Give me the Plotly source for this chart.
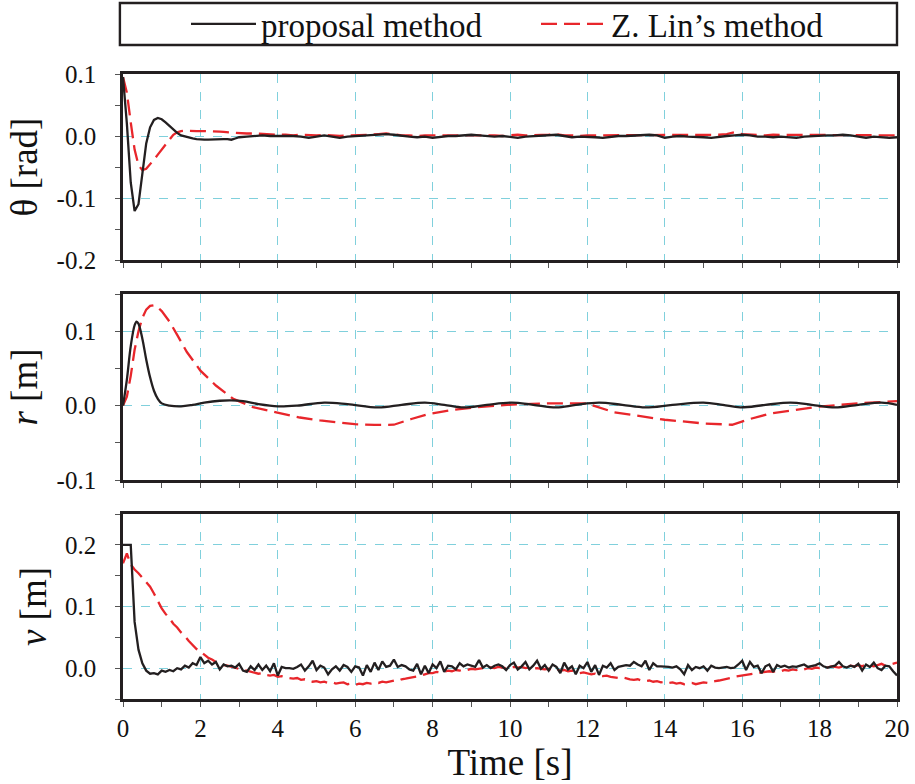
import plotly.graph_objects as go
from plotly.subplots import make_subplots

# ---------------- data ----------------
# theta panel: fine grid 0.0-2.9 s (0.1 s), then 3.0-20.0 s (0.2 s)
theta_t = [round(0.1 * i, 1) for i in range(30)] + [round(3 + 0.2 * i, 1) for i in range(86)]
theta_prop = [
    0.095, 0.020, -0.075, -0.121, -0.110, -0.058, -0.012, 0.014, 0.026, 0.029,
    0.027, 0.022, 0.016, 0.010, 0.005, 0.001, -0.001, -0.003, -0.004, -0.005,
    -0.006, -0.006, -0.006, -0.0055, -0.005, -0.005, -0.005, -0.005, -0.006, -0.004,
    -0.002, -0.001, 0.000, 0.001, 0.000,
    0.000, 0.001, 0.000, -0.001, -0.003,
    -0.001, 0.001, -0.001, -0.003, -0.001,
    0.000, 0.001, 0.001, 0.002, 0.003,
    0.002, 0.000, -0.001, -0.002, -0.001,
    -0.003, -0.001, 0.000, 0.000, 0.001,
    0.002, 0.001, 0.000, -0.001, 0.000,
    -0.001, -0.003, -0.001, 0.000, 0.001,
    0.001, 0.002, 0.000, -0.002, -0.001,
    -0.001, -0.002, -0.003, -0.001, 0.000,
    0.000, 0.001, 0.001, 0.002, 0.001,
    -0.003, -0.001, 0.000, -0.001, -0.001,
    -0.002, -0.003, -0.001, 0.000, 0.001,
    0.002, 0.001, -0.001, -0.001, -0.002,
    -0.001, -0.002, -0.003, -0.001, 0.000,
    0.000, 0.001, 0.001, 0.002, 0.001,
    -0.001, -0.003, -0.001, -0.002, -0.003,
    -0.002,
]
theta_lin = [
    0.095, 0.070, 0.022, -0.022, -0.047, -0.055, -0.053, -0.046, -0.038, -0.030,
    -0.022, -0.013, -0.005, 0.002, 0.006, 0.008, 0.0085, 0.008, 0.008, 0.008,
    0.008, 0.008, 0.0075, 0.0075, 0.007, 0.007, 0.0065, 0.006, 0.006, 0.0055,
    0.005, 0.004, 0.004, 0.003, 0.003,
    0.002, 0.002, 0.001, 0.002, 0.001,
    0.001, 0.002, 0.001, 0.000, 0.001,
    0.001, 0.002, 0.002, 0.003, 0.004,
    0.003, 0.001, 0.001, 0.000, 0.001,
    0.001, 0.001, 0.002, 0.001, 0.001,
    0.002, 0.002, 0.001, 0.001, 0.000,
    0.001, 0.002, 0.001, 0.001, 0.002,
    0.002, 0.003, 0.001, 0.001, 0.000,
    0.001, 0.001, 0.002, 0.002, 0.002,
    0.002, 0.002, 0.001, 0.002, 0.001,
    0.001, 0.002, 0.001, 0.002, 0.002,
    0.001, 0.001, 0.002, 0.003, 0.006,
    0.003, 0.002, 0.001, 0.001, 0.002,
    0.002, 0.001, 0.001, 0.002, 0.001,
    0.001, 0.002, 0.001, 0.001, 0.002,
    0.001, 0.001, 0.002, 0.001, 0.002,
    0.001,
]

# r panel
r_prop_t = [0, 0.1, 0.2, 0.3, 0.35, 0.4, 0.5, 0.6, 0.7, 0.8, 0.9, 1.0, 1.2, 1.5, 1.8, 2.1, 2.5,
            2.8, 3.1, 3.5, 4.0, 4.5, 5.2, 5.8, 6.6, 7.2, 7.8, 8.3, 8.8, 9.4, 10.05, 10.6, 11.2,
            11.7, 12.3, 12.9, 13.5, 14.2, 15.0, 15.5, 15.95, 16.6, 17.25, 17.8, 18.4, 19.0, 19.6, 20.0]
r_prop = [0.0, 0.035, 0.080, 0.108, 0.113, 0.110, 0.090, 0.062, 0.038, 0.020, 0.009, 0.003, 0.0,
          -0.001, 0.001, 0.004, 0.0065, 0.007, 0.006, 0.002, -0.001, 0.0, 0.004, 0.002, -0.0025,
          0.001, 0.004, 0.001, -0.0025, 0.001, 0.004, 0.001, -0.0025, 0.001, 0.004, 0.001, -0.0025,
          0.001, 0.004, 0.001, -0.0025, 0.001, 0.004, 0.001, -0.0025, 0.001, 0.004, 0.001]
r_lin_t = [0, 0.1, 0.2, 0.3, 0.4, 0.5, 0.6, 0.7, 0.8, 0.9, 1.0, 1.2, 1.4, 1.65, 2.0, 2.4, 2.85,
           3.36, 3.96, 4.57, 5.09, 5.99, 6.5, 7.0, 7.45, 7.92, 8.5, 9.14, 10.05, 11.0, 11.98,
           12.69, 14.0, 15.0, 15.74, 16.2, 16.75, 17.97, 19.0, 20.0]
r_lin = [0.0, 0.012, 0.040, 0.075, 0.100, 0.118, 0.129, 0.134, 0.135, 0.132, 0.127, 0.113, 0.095,
         0.072, 0.047, 0.027, 0.009, -0.002, -0.009, -0.016, -0.020, -0.025, -0.026, -0.0257,
         -0.018, -0.011, -0.006, -0.0023, 0.0014, 0.003, 0.003, -0.009, -0.019, -0.024, -0.0257,
         -0.018, -0.0104, -0.0014, 0.003, 0.006]

# v panel: 0.0-20.0 s every 0.1 s
v_t = [round(0.1 * i, 1) for i in range(201)]
v_prop = [
    0.200, 0.200, 0.200, 0.075, 0.030, 0.008, -0.004, -0.009, -0.008, -0.010,
    -0.004, -0.006, -0.003, -0.005, 0.000, -0.002, 0.004, 0.001, 0.008, 0.005,
    0.018, 0.008, 0.012, 0.006, 0.010, -0.002, 0.006, 0.003, 0.004, 0.001,
    0.007, -0.004, -0.006, 0.003, -0.003, 0.006, -0.003, 0.004, -0.005, 0.008,
    -0.012, 0.002, 0.000, 0.000, -0.001, 0.002, 0.006, -0.004, 0.003, 0.012,
    -0.003, 0.004, 0.001, -0.010, -0.002, 0.003, -0.004, 0.005, 0.002, -0.006,
    0.003, 0.001, -0.012, 0.005, -0.006, 0.009, -0.003, 0.011, 0.002, 0.004,
    0.014, 0.002, 0.005, 0.003, -0.002, -0.004, 0.007, -0.010, 0.004, -0.008,
    0.006, 0.000, 0.011, -0.006, 0.004, 0.003, -0.002, 0.008, 0.003, 0.006,
    0.004, 0.002, 0.013, 0.001, 0.005, 0.000, 0.004, 0.006, 0.003, -0.003,
    0.005, 0.009, -0.002, 0.003, 0.010, -0.002, 0.004, 0.012, -0.001, 0.005,
    -0.004, 0.006, 0.002, -0.008, 0.009, -0.002, 0.003, -0.010, 0.004, 0.000,
    0.010, -0.006, 0.005, -0.011, 0.004, 0.001, 0.008, -0.003, 0.002, 0.003,
    0.005, 0.004, 0.010, 0.006, 0.003, 0.012, -0.003, 0.008, 0.003, 0.003,
    0.003, 0.002, 0.001, 0.003, -0.002, -0.010, 0.005, -0.003, 0.002, 0.000,
    0.003, -0.004, 0.004, 0.001, 0.000, 0.001, 0.002, 0.000, 0.001, 0.006,
    0.012, -0.003, 0.010, 0.002, 0.004, -0.008, 0.003, 0.006, -0.006, 0.005,
    0.002, 0.004, 0.001, 0.003, 0.002, 0.004, 0.006, 0.002, 0.003, 0.005,
    0.008, 0.003, 0.001, 0.003, 0.004, 0.010, 0.003, 0.001, 0.004, 0.002,
    0.007, -0.004, 0.006, 0.002, 0.009, 0.000, -0.003, 0.004, 0.003, -0.005,
    -0.012,
]
v_lin = [
    0.170, 0.186, 0.168, 0.160, 0.154, 0.147, 0.140, 0.132, 0.121, 0.108,
    0.097, 0.088, 0.081, 0.072, 0.066, 0.058, 0.052, 0.044, 0.038, 0.031,
    0.027, 0.022, 0.017, 0.014, 0.010, 0.008, 0.005, 0.004, 0.002, 0.000,
    -0.002, -0.003, -0.004, -0.006, -0.007, -0.009, -0.008, -0.011, -0.012, -0.011,
    -0.014, -0.013, -0.015, -0.016, -0.017, -0.016, -0.019, -0.018, -0.020, -0.022,
    -0.021, -0.023, -0.022, -0.024, -0.023, -0.025, -0.024, -0.023, -0.026, -0.025,
    -0.027, -0.025, -0.026, -0.024, -0.025, -0.023, -0.024, -0.022, -0.023, -0.021,
    -0.020, -0.021, -0.018, -0.017, -0.016, -0.015, -0.013, -0.012, -0.010, -0.008,
    -0.008, -0.006, -0.007, -0.005, -0.004, -0.005, -0.003, -0.004, -0.002, -0.003,
    -0.001, -0.002, -0.001, 0.000, -0.001, 0.001, 0.000, 0.002, 0.001, 0.000,
    0.001, 0.002, 0.001, 0.002, 0.000, 0.001, -0.001, 0.000, -0.001, -0.002,
    -0.001, -0.003, -0.002, -0.004, -0.003, -0.005, -0.004, -0.006, -0.008, -0.007,
    -0.009, -0.010, -0.009, -0.012, -0.013, -0.012, -0.014, -0.015, -0.016, -0.015,
    -0.017, -0.018, -0.019, -0.018, -0.020, -0.021, -0.020, -0.022, -0.021, -0.023,
    -0.022, -0.024, -0.023, -0.025, -0.024, -0.026, -0.025, -0.024, -0.026, -0.025,
    -0.023, -0.024, -0.022, -0.021, -0.020, -0.019, -0.017, -0.016, -0.014, -0.013,
    -0.012, -0.011, -0.010, -0.009, -0.008, -0.008, -0.007, -0.005, -0.006, -0.004,
    -0.005, -0.003, -0.004, -0.002, -0.003, -0.001, -0.002, 0.000, -0.001, 0.001,
    0.000, 0.002, 0.001, 0.003, 0.002, 0.001, 0.003, 0.002, 0.004, 0.003,
    0.005, 0.003, 0.006, 0.004, 0.003, 0.005, 0.007, 0.004, 0.006, 0.008,
    0.009,
]

series_names = ["proposal method", "Z. Lin\u2019s method"]
x_ticks = [0, 2, 4, 6, 8, 10, 12, 14, 16, 18, 20]
y_titles = ["\u03b8 [rad]", "<i>r</i> [m]", "<i>v</i> [m]"]
y_ranges = [[-0.2, 0.1], [-0.1, 0.15], [-0.05, 0.25]]
y_tickvals = [[-0.2, -0.1, 0.0, 0.1], [-0.1, 0.0, 0.1], [0.0, 0.1, 0.2]]
y_ticktext = [["-0.2", "-0.1", "0.0", "0.1"], ["-0.1", "0.0", "0.1"], ["0.0", "0.1", "0.2"]]
y_minor = [[-0.15, -0.05, 0.05], [-0.05, 0.05, 0.15], [-0.05, 0.05, 0.15, 0.25]]

# ---------------- style ----------------
FONT = "Liberation Serif"
BLACK = "#231f20"
RED = "#e8262b"
GRID = "#80d0dc"
FRAME = "#231f20"

fig = make_subplots(rows=3, cols=1)

panels = [
    (theta_t, theta_prop, theta_t, theta_lin, "linear"),
    (r_prop_t, r_prop, r_lin_t, r_lin, "spline"),
    (v_t, v_prop, v_t, v_lin, "linear"),
]
for i, (tp, yp, tl, yl, shape) in enumerate(panels):
    row = i + 1
    fig.add_trace(go.Scatter(x=tl, y=yl, mode="lines", name=series_names[1],
                             line=dict(color=RED, width=2.3, dash="16px,7px", shape="linear"),
                             showlegend=(i == 0), legendrank=2), row=row, col=1)
    fig.add_trace(go.Scatter(x=tp, y=yp, mode="lines", name=series_names[0],
                             line=dict(color=BLACK, width=2.3, shape=shape),
                             showlegend=(i == 0), legendrank=1), row=row, col=1)

domains = [[0.7024, 1.0], [0.3504, 0.648], [0.0, 0.296]]
for i in range(3):
    row = i + 1
    fig.update_xaxes(
        range=[0, 20], tickmode="array", tickvals=x_ticks, ticktext=[str(v) for v in x_ticks],
        showticklabels=(row == 3), showgrid=True, gridcolor=GRID, griddash="dash", gridwidth=1.2,
        zeroline=False, showline=True, linecolor=FRAME, linewidth=2.6, mirror=True,
        ticks="outside", ticklen=5, tickwidth=1.2, tickcolor="#555555",
        minor=dict(tickvals=list(range(1, 20, 2)), ticks="outside", ticklen=5, tickwidth=1.2,
                   tickcolor="#555555", showgrid=False),
        tickfont=dict(family=FONT, size=25, color="#111111"),
        automargin=False,
        row=row, col=1)
    fig.update_yaxes(
        domain=domains[i], range=y_ranges[i], tickmode="array", tickvals=y_tickvals[i],
        ticktext=y_ticktext[i], showgrid=True, gridcolor=GRID, griddash="dash", gridwidth=1.2,
        zeroline=False, showline=True, linecolor=FRAME, linewidth=2.6, mirror=True,
        ticks="outside", ticklen=5, tickwidth=1.2, tickcolor="#555555", ticklabelstandoff=14,
        minor=dict(tickvals=y_minor[i], ticks="outside", ticklen=5, tickwidth=1.2,
                   tickcolor="#555555", showgrid=False),
        tickfont=dict(family=FONT, size=25, color="#111111"),
        title=dict(text=y_titles[i], font=dict(family=FONT, size=37, color="#111111"), standoff=8),
        automargin=False,
        row=row, col=1)

fig.update_xaxes(title=dict(text="Time [s]", font=dict(family=FONT, size=37, color="#111111"),
                            standoff=2), row=3, col=1)

fig.add_shape(type="rect", xref="paper", yref="paper", x0=-0.004, x1=1.0, y0=1.0464, y1=1.1136,
              line=dict(color=FRAME, width=2.4), fillcolor="rgba(0,0,0,0)", layer="above")

fig.update_layout(
    width=915, height=784,
    margin=dict(l=123, r=18, t=74, b=85, autoexpand=False),
    paper_bgcolor="white", plot_bgcolor="white",
    font=dict(family=FONT, color="#111111"),
    showlegend=True,
    legend=dict(orientation="h", x=0.0814, xanchor="left", y=1.08, yanchor="middle",
                font=dict(family=FONT, size=33, color="#111111"),
                bgcolor="rgba(0,0,0,0)", borderwidth=0, itemwidth=65,
                traceorder="normal", entrywidth=270, entrywidthmode="pixels"),
)

fig.write_html("out.html", config={"displayModeBar": False},
               post_script="document.body.style.margin='0';document.body.style.overflow='hidden';")
